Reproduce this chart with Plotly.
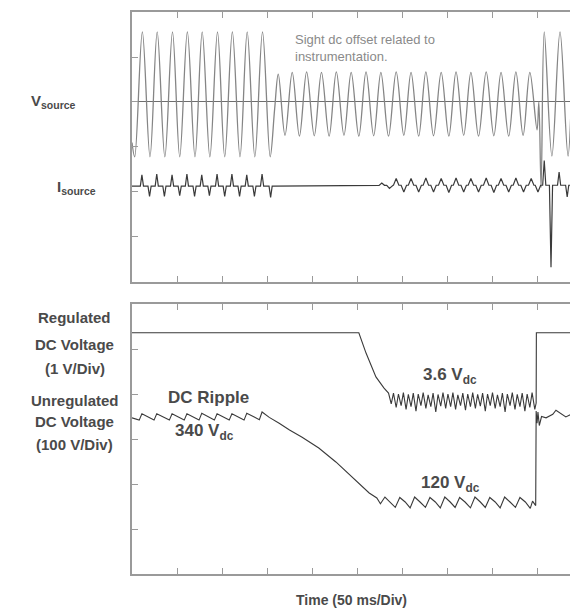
import numpy as np
import plotly.graph_objects as go
from plotly.subplots import make_subplots

# ---------------- data (time in divisions, 50 ms/div; amplitude in divisions) -------------
# V source knots (peaks / troughs); top panel, centre line = 0
VSRC = [(0.00, -0.90), (0.06, -1.22), (0.23, 1.56), (0.40, -1.22), (0.56, 1.56), (0.73, -1.22),
        (0.90, 1.56), (1.06, -1.22), (1.23, 1.56), (1.40, -1.22), (1.56, 1.56), (1.73, -1.22),
        (1.90, 1.56), (2.06, -1.22), (2.23, 1.56), (2.40, -1.22), (2.56, 1.56), (2.73, -1.22),
        (2.90, 1.56), (3.07, -1.22), (3.17, -0.15), (3.25, 0.62), (3.40, -0.74), (3.56, 0.66),
        (3.72, -0.76), (3.88, 0.67), (4.05, -0.75), (4.21, 0.66), (4.38, -0.76), (4.54, 0.67),
        (4.71, -0.74), (4.87, 0.66), (5.04, -0.76), (5.20, 0.67), (5.37, -0.75), (5.53, 0.66),
        (5.70, -0.76), (5.87, 0.67), (6.04, -0.74), (6.20, 0.66), (6.37, -0.76), (6.53, 0.67),
        (6.70, -0.75), (6.87, 0.66), (7.04, -0.76), (7.20, 0.67), (7.37, -0.74), (7.53, 0.66),
        (7.70, -0.76), (7.87, 0.67), (8.04, -0.75), (8.20, 0.66), (8.37, -0.76), (8.53, 0.67),
        (8.69, -0.74), (8.84, 0.66), (9.00, -0.62), (9.04, 0.00), (9.09, -1.90), (9.16, 1.56),
        (9.33, -1.20), (9.51, 1.56), (9.69, -1.20), (9.84, 1.56), (10.0, -1.20)]

# I source: baseline knots and current pulses (time, peak value)
ISRC_BASE = [(0.0, -1.87), (3.15, -1.87), (5.8, -1.85), (10.0, -1.85)]
ISRC_PULSES = [(0.22, -1.62), (0.39, -2.10), (0.55, -1.60), (0.72, -2.10), (0.89, -1.62), (1.06, -2.08),
               (1.22, -1.60), (1.39, -2.10), (1.55, -1.62), (1.72, -2.08), (1.89, -1.60), (2.06, -2.10),
               (2.22, -1.60), (2.39, -2.10), (2.55, -1.62), (2.72, -2.10), (2.89, -1.60), (3.08, -2.12),
               (5.55, -1.80), (5.72, -1.92),
               (5.87, -1.70), (6.04, -2.00), (6.20, -1.70), (6.37, -2.00), (6.53, -1.69), (6.70, -2.00),
               (6.87, -1.70), (7.04, -2.01), (7.20, -1.69), (7.37, -2.00), (7.53, -1.70), (7.70, -2.00),
               (7.87, -1.69), (8.04, -2.01), (8.20, -1.70), (8.37, -2.00), (8.53, -1.69), (8.70, -2.00),
               (8.87, -1.70), (9.02, -2.00),
               (9.16, -1.30), (9.31, -3.67), (9.49, -1.56), (9.67, -2.11), (9.84, -1.60)]

# Regulated DC voltage (1 V/div), bottom panel
REG = [(0.0, 5.36), (5.04, 5.36), (5.20, 4.91), (5.42, 4.38), (5.60, 4.13), (5.70, 4.02),
       (5.76, 3.78), (5.81, 4.02), (5.87, 3.70), (5.92, 4.00), (5.98, 3.74), (6.03, 4.03), (6.09, 3.66),
       (6.14, 3.99), (6.20, 3.72), (6.25, 4.02), (6.31, 3.62), (6.36, 4.00), (6.42, 3.74), (6.47, 4.03),
       (6.53, 3.68), (6.58, 3.98), (6.64, 3.72), (6.69, 4.02), (6.75, 3.60), (6.80, 3.99), (6.86, 3.73),
       (6.91, 4.03), (6.97, 3.68), (7.02, 4.00), (7.08, 3.72), (7.13, 4.03), (7.19, 3.66), (7.24, 3.98),
       (7.30, 3.74), (7.35, 4.02), (7.41, 3.64), (7.46, 4.00), (7.52, 3.72), (7.57, 4.03), (7.63, 3.68),
       (7.68, 3.99), (7.74, 3.73), (7.79, 4.02), (7.85, 3.62), (7.90, 4.00), (7.96, 3.74), (8.01, 4.03),
       (8.07, 3.68), (8.12, 3.98), (8.18, 3.72), (8.23, 4.02), (8.29, 3.60), (8.34, 4.00), (8.40, 3.74),
       (8.45, 4.03), (8.51, 3.66), (8.56, 3.99), (8.62, 3.72), (8.67, 4.02), (8.73, 3.62), (8.78, 4.00),
       (8.84, 3.70), (8.89, 4.03), (8.95, 3.66), (8.98, 3.80), (8.985, 5.36), (10.0, 5.36)]

# Unregulated DC voltage (100 V/div), bottom panel
UNREG = [(0.0, 3.47), (0.16, 3.42), (0.22, 3.56), (0.35, 3.50), (0.49, 3.42), (0.55, 3.56), (0.68, 3.50),
         (0.83, 3.42), (0.89, 3.56), (1.02, 3.50), (1.16, 3.42), (1.22, 3.56), (1.35, 3.50), (1.49, 3.42),
         (1.55, 3.57), (1.68, 3.50), (1.83, 3.42), (1.89, 3.56), (2.02, 3.50), (2.16, 3.42), (2.22, 3.56),
         (2.35, 3.50), (2.49, 3.42), (2.55, 3.57), (2.68, 3.50), (2.83, 3.43), (2.89, 3.60), (3.05, 3.48),
         (3.27, 3.35), (3.50, 3.20), (3.78, 3.04), (4.15, 2.80), (4.53, 2.49), (4.89, 2.16), (5.10, 1.95),
         (5.27, 1.80), (5.44, 1.69), (5.52, 1.56), (5.62, 1.71), (5.74, 1.60), (5.85, 1.48), (5.95, 1.70),
         (6.07, 1.60), (6.18, 1.47), (6.28, 1.71), (6.40, 1.60), (6.52, 1.48), (6.62, 1.70), (6.74, 1.60),
         (6.85, 1.47), (6.95, 1.71), (7.07, 1.60), (7.18, 1.48), (7.28, 1.70), (7.40, 1.60), (7.52, 1.47),
         (7.62, 1.71), (7.74, 1.60), (7.85, 1.48), (7.95, 1.70), (8.07, 1.60), (8.18, 1.47), (8.28, 1.71),
         (8.40, 1.60), (8.52, 1.48), (8.62, 1.70), (8.74, 1.60), (8.85, 1.46), (8.90, 1.62), (8.97, 1.52),
         (8.98, 3.62), (9.00, 3.35), (9.02, 3.60), (9.05, 3.30), (9.10, 3.50), (9.20, 3.47), (9.35, 3.55),
         (9.42, 3.64), (9.55, 3.55), (9.64, 3.49), (9.78, 3.56), (9.87, 3.64), (10.0, 3.56)]

X_DIVS = 9.91

# ---------------- build I-source trace from baseline + pulses ----------------
bt = np.array([p[0] for p in ISRC_BASE]); bv = np.array([p[1] for p in ISRC_BASE])
pts = [(t, v) for t, v in ISRC_BASE]
for t, v in ISRC_PULSES:
    w = 0.06 if 5.5 < t < 9.1 else 0.035
    pts.append((t - w, float(np.interp(t - w, bt, bv))))
    pts.append((t, v))
    pts.append((t + w, float(np.interp(t + w, bt, bv))))
pts.sort(key=lambda p: p[0])
isrc_x = [p[0] for p in pts]; isrc_y = [p[1] for p in pts]

def unzip(lst):
    return [p[0] for p in lst], [p[1] for p in lst]

fig = make_subplots(rows=2, cols=1, vertical_spacing=0.04)

vx, vy = unzip(VSRC)
fig.add_trace(go.Scatter(x=vx, y=vy, mode="lines", line=dict(color="#858585", width=1.3, shape="spline", smoothing=1.0),
                         showlegend=False, hoverinfo="skip"), row=1, col=1)
fig.add_trace(go.Scatter(x=isrc_x, y=isrc_y, mode="lines", line=dict(color="#3a3a3a", width=1.2),
                         showlegend=False, hoverinfo="skip"), row=1, col=1)
rx, ry = unzip(REG)
fig.add_trace(go.Scatter(x=rx, y=ry, mode="lines", line=dict(color="#3a3a3a", width=1.1),
                         showlegend=False, hoverinfo="skip"), row=2, col=1)
ux, uy = unzip(UNREG)
fig.add_trace(go.Scatter(x=ux, y=uy, mode="lines", line=dict(color="#3a3a3a", width=1.1),
                         showlegend=False, hoverinfo="skip"), row=2, col=1)

axis_common = dict(showline=True, linecolor="#9a9a9a", linewidth=2, ticks="inside", ticklen=6,
                   tickcolor="#9a9a9a", tickwidth=1, showticklabels=False, showgrid=False, dtick=1, tick0=0)

for r in (1, 2):
    fig.update_xaxes(range=[0, X_DIVS], mirror="allticks", zeroline=False, row=r, col=1, **axis_common)
fig.update_yaxes(range=[-4, 2], mirror=False, zeroline=True, zerolinecolor="#6e6e6e", zerolinewidth=1,
                 row=1, col=1, **axis_common)
fig.update_yaxes(range=[0, 6], mirror=False, zeroline=False, row=2, col=1, **axis_common)

# page body has an 8px default margin: figure placed so plot areas land where the reference has them
fig.update_layout(
    width=570, height=603, margin=dict(l=124, r=0, t=4, b=37),
    paper_bgcolor="white", plot_bgcolor="white",
    font=dict(family="Liberation Sans, Arial, sans-serif", color="#444"),
    yaxis=dict(domain=[0.5196, 1.0]), yaxis2=dict(domain=[0.0, 0.4804]),
)

FONT = "Liberation Sans, Arial, sans-serif"
lab = dict(family=FONT, size=15, color="#4a4a4a")
labb = dict(family=FONT, size=17, color="#4a4a4a")

def ann(text, x, y, xref, yref, font, xanchor="center", align="center"):
    fig.add_annotation(text=text, x=x, y=y, xref=xref, yref=yref, showarrow=False, font=font,
                       xanchor=xanchor, yanchor="middle", align=align)

# top panel labels (x in paper units: plot area is 446 px wide)
ann("<b>V<sub>source</sub></b>", -0.177, 0.0, "paper", "y", lab)
ann("<b>I<sub>source</sub></b>", -0.125, -1.89, "paper", "y", lab)
ann("Sight dc offset related to<br>instrumentation.", 3.58, 1.2, "x", "y",
    dict(family=FONT, size=13, color="#8a8a8a"), xanchor="left", align="left")

# bottom panel labels
for txt, yy in [("Regulated", 5.71), ("DC Voltage", 5.11), ("(1 V/Div)", 4.57),
                ("Unregulated", 3.86), ("DC Voltage", 3.39), ("(100 V/Div)", 2.88)]:
    ann("<b>" + txt + "</b>", -0.128, yy, "paper", "y2", lab)
ann("<b>DC Ripple</b>", 1.69, 3.93, "x2", "y2", labb)
ann("<b>340 V<sub>dc</sub></b>", 1.62, 3.15, "x2", "y2", labb)
ann("<b>3.6 V<sub>dc</sub></b>", 7.07, 4.39, "x2", "y2", labb)
ann("<b>120 V<sub>dc</sub></b>", 7.07, 2.01, "x2", "y2", labb)
ann("<b>Time (50 ms/Div)</b>", 0.493, -0.046, "paper", "paper", dict(family=FONT, size=14, color="#4a4a4a"))

fig.write_html("out.html")
